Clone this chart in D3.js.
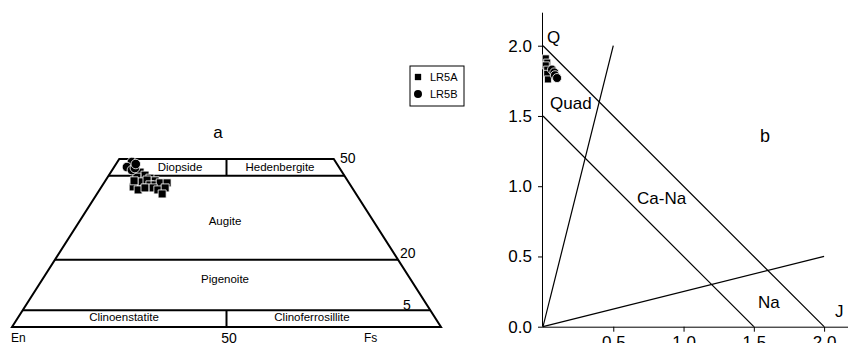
<!DOCTYPE html>
<html><head><meta charset="utf-8">
<script src="https://cdn.jsdelivr.net/npm/d3@7"></script>
<style>body{margin:0;background:#fff}svg{display:block;font-family:Arial,"Liberation Sans",sans-serif}</style>
</head><body><svg id="c" width="848" height="343"></svg>
<script>
// ---- Panel a: pyroxene quadrilateral (Wo, Fs in mol %) ----
const lr5aWo = [46.1,45.2,44.3,43.5,44.6,43.2,43.75,42.3,42.3,42.9,42.9,41.7,40.8,41.4,41.4,40.8,41.4,39.6,43.5];
const lr5aFs = [6.8,8.4,10.0,11.6,6.8,8.7,9.6,11.0,12.2,13.1,14.7,7.4,9.0,10.3,12.2,13.6,15.0,15.2,6.7];
const lr5bWo = [49.1,47.6,46.7,47.3,48.5];
const lr5bFs = [3.4,3.0,4.6,5.0,4.6];
const woLevels = [45,20,5];
const woLevelLabels = ["50","20","5"];
const fieldNames = ["Diopside","Hedenbergite","Augite","Pigenoite","Clinoenstatite","Clinoferrosillite"];
// ---- Panel b: Q vs J ----
const lr5aJ = [0.02,0.03,0.02,0.03,0.03,0.035];
const lr5aQ = [1.91,1.88,1.86,1.83,1.80,1.76];
const lr5bJ = [0.064,0.08,0.085,0.10];
const lr5bQ = [1.83,1.81,1.79,1.77];
const bTicks = [0,0.5,1.0,1.5,2.0];
const seriesNames = ["LR5A","LR5B"];

const svg = d3.select("#c");

// ================= Panel a =================
const wy = d3.scaleLinear().domain([0,50]).range([327,159]);
const fx = d3.scaleLinear().domain([0,100]).range([12,441]);
const tx = (wo,fs) => fx(fs + wo/2);
const ty = wo => wy(wo);
const ga = svg.append("g");
const line = d3.line();
ga.append("path").attr("d", line([[tx(0,0),ty(0)],[tx(50,0),ty(50)],[tx(50,50),ty(50)],[tx(0,100),ty(0)]]) + "Z")
  .attr("fill","none").attr("stroke","#000").attr("stroke-width",2).attr("stroke-linejoin","miter");
woLevels.forEach(w => {
  ga.append("line").attr("x1",tx(w,0)).attr("x2",tx(w,100-w)).attr("y1",ty(w)).attr("y2",ty(w))
    .attr("stroke","#000").attr("stroke-width",2);
});
[[45,50],[0,5]].forEach(([a,b]) => {
  ga.append("line").attr("x1",tx(a,(100-a)/2)).attr("x2",tx(b,(100-b)/2)).attr("y1",ty(a)).attr("y2",ty(b))
    .attr("stroke","#000").attr("stroke-width",2);
});
const lab = (g,x,y,t,size,anchor) => g.append("text").attr("x",x).attr("y",y).attr("font-size",size)
  .attr("text-anchor",anchor||"middle").attr("fill","#000").text(t);
lab(ga,180,170.5,fieldNames[0],11.5);
lab(ga,280,170.5,fieldNames[1],11.5);
lab(ga,225,225,fieldNames[2],11.5);
lab(ga,225,283,fieldNames[3],11.5);
lab(ga,124,320.5,fieldNames[4],11.5);
lab(ga,312,320.5,fieldNames[5],11.5);
lab(ga,218,138,"a",17);
lab(ga,340,163,woLevelLabels[0],14,"start");
lab(ga,400,258,woLevelLabels[1],14,"start");
lab(ga,403,310,woLevelLabels[2],14,"start");
lab(ga,11,342,"En",12,"start");
lab(ga,229,343,"50",14);
lab(ga,364,342,"Fs",12,"start");

const sq = d3.symbol().type(d3.symbolSquare);
const ci = d3.symbol().type(d3.symbolCircle);
lr5aWo.forEach((w,i) => ga.append("path").attr("d",sq.size(64)())
  .attr("transform",`translate(${tx(w,lr5aFs[i])},${ty(w)})`).attr("fill","#000").attr("stroke","#fff").attr("stroke-width",0.8));
lr5bWo.forEach((w,i) => ga.append("path").attr("d",ci.size(72)())
  .attr("transform",`translate(${tx(w,lr5bFs[i])},${ty(w)})`).attr("fill","#000").attr("stroke","#fff").attr("stroke-width",0.8));

const lg = svg.append("g");
lg.append("rect").attr("x",410).attr("y",66).attr("width",54).attr("height",40).attr("fill","#fff").attr("stroke","#000").attr("stroke-width",1);
seriesNames.forEach((n,i) => {
  const yy = 77 + i*17;
  lg.append("path").attr("d",(i===0?sq.size(40):ci.size(50))()).attr("transform",`translate(418,${yy})`).attr("fill","#000");
  lab(lg,430,yy+4,n,11,"start");
});

// ================= Panel b =================
const xb = d3.scaleLinear().domain([0,2.17]).range([543,848]);
const yb = d3.scaleLinear().domain([0,2.235]).range([326.7,12.7]);
const gb = svg.append("g");
gb.append("g").attr("transform","translate(543,0)")
  .call(d3.axisLeft(yb).tickValues(bTicks).tickFormat(d3.format(".1f")).tickSize(5).tickPadding(6))
  .call(g => { g.select(".domain").attr("d",`M-0.5,${yb(0)}V${yb.range()[1]}`); g.selectAll("text").attr("font-size",17).attr("font-family","Arial, 'Liberation Sans', sans-serif"); });
gb.append("g").attr("transform",`translate(0,${yb(0)})`)
  .call(d3.axisBottom(xb).tickValues(bTicks.slice(1)).tickFormat(d3.format(".1f")).tickSize(5).tickPadding(4))
  .call(g => { g.select(".domain").attr("d",`M${xb(0)},0.5H848`); g.selectAll("text").attr("font-size",17).attr("font-family","Arial, 'Liberation Sans', sans-serif"); });
const blines = [[[0,2],[2,0]],[[0,1.5],[1.5,0]],[[0,0],[0.5,2]],[[0,0],[2,0.5]]];
blines.forEach(l => gb.append("line").attr("x1",xb(l[0][0])).attr("y1",yb(l[0][1])).attr("x2",xb(l[1][0])).attr("y2",yb(l[1][1]))
  .attr("stroke","#000").attr("stroke-width",1.2));
lab(gb,547,43,"Q",17,"start");
lab(gb,550,109,"Quad",17,"start");
lab(gb,760,142,"b",18,"start");
lab(gb,637,204,"Ca-Na",17,"start");
lab(gb,758,308,"Na",17,"start");
lab(gb,835,317,"J",17,"start");
lr5aJ.forEach((j,i) => gb.append("path").attr("d",sq.size(49)())
  .attr("transform",`translate(${xb(j)},${yb(lr5aQ[i])})`).attr("fill","#000").attr("stroke","#fff").attr("stroke-width",0.8));
lr5bJ.forEach((j,i) => gb.append("path").attr("d",ci.size(64)())
  .attr("transform",`translate(${xb(j)},${yb(lr5bQ[i])})`).attr("fill","#000").attr("stroke","#fff").attr("stroke-width",0.8));
</script></body></html>
